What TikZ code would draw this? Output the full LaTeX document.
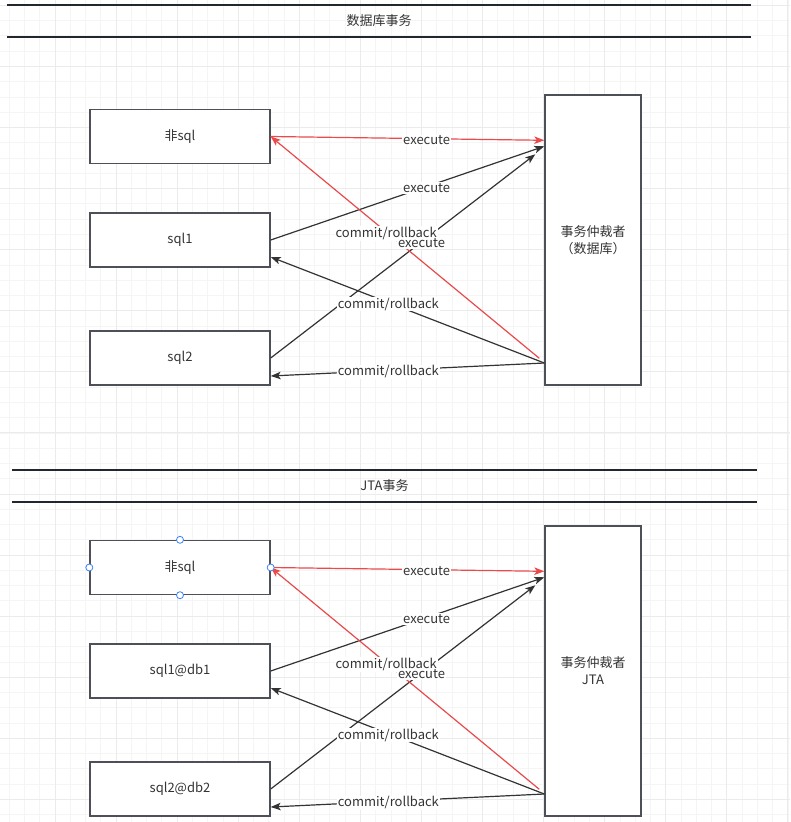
\documentclass[tikz,border=0pt]{standalone}
\usepackage{fontspec}
\setmainfont{Noto Sans CJK SC}
\usetikzlibrary{arrows.meta}
\definecolor{ink}{HTML}{333333}
\definecolor{frame}{HTML}{4D5157}
\definecolor{rule}{HTML}{22272E}
\definecolor{alert}{HTML}{E94B4B}
\definecolor{handle}{HTML}{3B82F6}
\definecolor{gridmin}{HTML}{F5F5F5}
\definecolor{gridmaj}{HTML}{EBEBEB}

\begin{document}
\begin{tikzpicture}[x=1pt,y=-1pt,
  box/.style={draw=frame,line width=1.4pt,fill=white,text=ink,minimum width=180pt,minimum height=54pt,inner sep=0pt,font=\fontsize{13}{15}\selectfont},
  judge/.style={box,minimum width=96pt,minimum height=290pt,align=center,font=\fontsize{13}{17}\selectfont},
  flow/.style={ink,line width=1.2pt,-{Stealth[length=10pt,width=7.5pt,inset=2.5pt]}},
  tag/.style={pos=0.57,fill=white,inner sep=1pt,yshift=-1.5pt,text=ink,font=\fontsize{13}{15}\selectfont},
  handledot/.style={circle,draw=handle,fill=white,line width=0.8pt,inner sep=0pt,minimum size=7pt}]
\useasboundingbox (0,0) rectangle (790,822);
\fill[white] (0,0) rectangle (790,822);
\foreach \i in {0,...,51}
  \draw[gridmin,line width=0.9pt] ({9.2+15.27*\i},0) -- ({9.2+15.27*\i},822);
\foreach \i in {0,...,53}
  \draw[gridmin,line width=0.9pt] (0,{5.4+15.27*\i}) -- (790,{5.4+15.27*\i});
\foreach \i in {1,...,13}
  \draw[gridmaj,line width=1pt] ({-6.08+61.08*\i},0) -- ({-6.08+61.08*\i},822);
\foreach \i in {0,...,13}
  \draw[gridmaj,line width=1pt] (0,{5.4+61.08*\i}) -- (790,{5.4+61.08*\i});

\foreach \s/\ya/\yb/\xa/\xb/\t in {db/5/37/7/751/数据库事务,jta/470/502/12/757/JTA事务}{
  \draw[rule,line width=1.8pt] (\xa,\ya) -- (\xb,\ya);
  \draw[rule,line width=1.8pt] (\xa,\yb) -- (\xb,\yb);
  \node[text=ink,font=\fontsize{13}{15}\selectfont] (\s-title) at ({(\xa+\xb)/2},{(\ya+\yb)/2}) {\t};
}

\foreach \s/\dy/\na/\nb/\arb in {db/0/sql1/sql2/（数据库）,jta/431/sql1@db1/sql2@db2/JTA}{
  \node[box] (\s-free) at (180,{136.5+\dy}) {非sql};
  \node[box] (\s-one) at (180,{240+\dy}) {\na};
  \node[box] (\s-two) at (180,{358+\dy}) {\nb};
  \node[judge] (\s-arb) at (593,{240+\dy}) {事务仲裁者\\\arb};
  \coordinate (\s-tip) at ([shift={(-9pt,-60pt)}]\s-arb.north west);
  \coordinate (\s-back) at ([shift={(-5pt,-264pt)}]\s-arb.north west);
  \coordinate (\s-ret) at ([yshift=-123pt]\s-arb.west);
  \draw[flow,alert] (\s-free.east) -- node[tag]{execute} ([yshift=-46pt]\s-arb.north west);
  \draw[flow] (\s-one.east) -- node[tag]{execute} ([yshift=-52pt]\s-arb.north west);
  \draw[flow] (\s-two.east) -- (\s-tip);
  \draw[flow,alert] (\s-back) -- node[tag]{commit/rollback} (\s-free.east);
  \path (\s-two.east) -- node[tag]{execute} (\s-tip);
  \draw[flow] (\s-ret) -- node[tag]{commit/rollback} ([yshift=-17pt]\s-one.east);
  \draw[flow] (\s-ret) -- node[tag]{commit/rollback} ([yshift=-18pt]\s-two.east);
}
\foreach \a in {north,south,east,west}
  \node[handledot] (pick-\a) at (jta-free.\a) {};
\end{tikzpicture}
\end{document}
